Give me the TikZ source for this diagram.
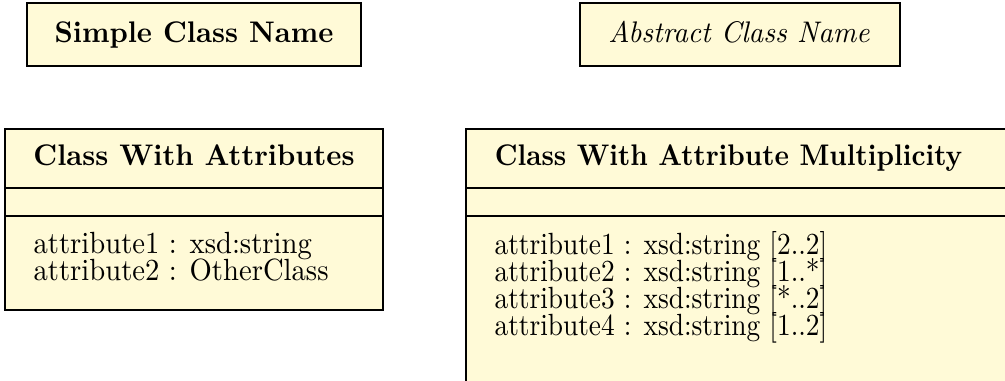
\documentclass[tikz,border=0pt]{standalone}
\definecolor{classfill}{RGB}{255,250,215}
\tikzset{
  classbox/.style={draw=black, fill=classfill, line width=0.4pt, inner sep=0pt, rectangle},
  classtitle/.style={font=\bfseries, inner sep=0pt, anchor=base},
  abstracttitle/.style={font=\itshape, inner sep=0pt, anchor=base},
  attr/.style={inner sep=0pt, anchor=base west},
  sep/.style={draw=black, line width=0.4pt}
}
\newcommand{\tallA}[1]{\scalebox{1}[1.07]{#1}}
\newcommand{\tallB}[1]{\scalebox{1}[1.04]{#1}}
\newcommand{\narrowA}[1]{\scalebox{0.955}[1.07]{#1}}
\newcommand{\narrowB}[1]{\scalebox{0.955}[1.04]{#1}}
\begin{document}
\begin{tikzpicture}[x=0.349pt,y=-0.349pt]
\useasboundingbox (0,0) rectangle (1005,381);
\clip (0,0) rectangle (1005,381);
% simple class
\node[classbox, minimum width=116.6pt, minimum height=22pt] (simple) at (194,34.5) {};
\node[classtitle] (simpleT) at (194,43) {\tallB{Simple Class Name}};
% abstract class
\node[classbox, minimum width=111.7pt, minimum height=22pt] (abstract) at (740,34.5) {};
\node[abstracttitle] (abstractT) at (739,43) {\tallB{Abstract Class Name}};
% class with attributes
\node[classbox, minimum width=131.9pt, minimum height=63.2pt] (attrbox) at (194,219.5) {};
\node[classtitle] (attrT) at (194,166) {\tallB{Class With Attributes}};
\coordinate (l1) at (0,188);
\coordinate (l2) at (0,216);
\draw[sep] (attrbox.west |- l1) -- (attrbox.east |- l1);
\draw[sep] (attrbox.west |- l2) -- (attrbox.east |- l2);
\node[attr] (a1) at (33,253) {\tallA{attribute1 : xsd:string}};
\node[attr] (a2) at (33,280) {\tallA{attribute2 : OtherClass}};
% class with attribute multiplicity
\node[classbox, minimum width=196.8pt, minimum height=94.6pt] (multbox) at (748,264.5) {};
\node[classtitle] (multT) at (728.5,166) {\narrowB{Class With Attribute Multiplicity}};
\draw[sep] (multbox.west |- l1) -- (multbox.east |- l1);
\draw[sep] (multbox.west |- l2) -- (multbox.east |- l2);
\node[attr] (m1) at (494,254) {\narrowA{attribute1 : xsd:string [2..2]}};
\node[attr] (m2) at (494,281) {\narrowA{attribute2 : xsd:string [1..*]}};
\node[attr] (m3) at (494,308) {\narrowA{attribute3 : xsd:string [*..2]}};
\node[attr] (m4) at (494,335) {\narrowA{attribute4 : xsd:string [1..2]}};
\end{tikzpicture}
\end{document}
